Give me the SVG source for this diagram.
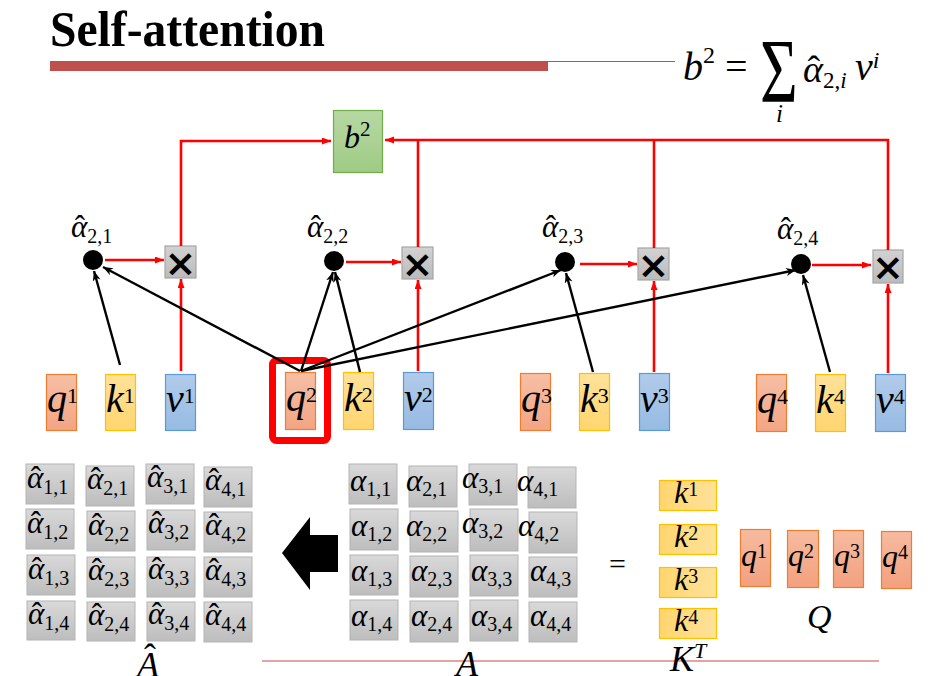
<svg xmlns="http://www.w3.org/2000/svg" width="930" height="676" viewBox="0 0 930 676">
<defs>
<linearGradient id="gq" x1="0" y1="0" x2="0" y2="1"><stop offset="0" stop-color="#F6BFA5"/><stop offset="1" stop-color="#F3A583"/></linearGradient>
<linearGradient id="gk" x1="0" y1="0" x2="0" y2="1"><stop offset="0" stop-color="#FFE29A"/><stop offset="1" stop-color="#FFD56E"/></linearGradient>
<linearGradient id="gk2" x1="0" y1="0" x2="1" y2="0"><stop offset="0" stop-color="#FFD56E"/><stop offset="1" stop-color="#FFE29A"/></linearGradient>
<linearGradient id="gq2" x1="0" y1="0" x2="0" y2="1"><stop offset="0" stop-color="#F6BBA0"/><stop offset="1" stop-color="#F3A07E"/></linearGradient>
<linearGradient id="gv" x1="0" y1="0" x2="0" y2="1"><stop offset="0" stop-color="#B1CBEA"/><stop offset="1" stop-color="#97BBE3"/></linearGradient>
<linearGradient id="gg" x1="0" y1="0" x2="0" y2="1"><stop offset="0" stop-color="#B7D8A3"/><stop offset="1" stop-color="#9FCB85"/></linearGradient>
<linearGradient id="gc" x1="0" y1="0" x2="0" y2="1"><stop offset="0" stop-color="#D9D9D9"/><stop offset="1" stop-color="#BDBDBD"/></linearGradient>
<linearGradient id="gx" x1="0" y1="0" x2="0" y2="1"><stop offset="0" stop-color="#D2D2D2"/><stop offset="1" stop-color="#BBBBBB"/></linearGradient>
<marker id="ar" markerUnits="userSpaceOnUse" markerWidth="10" markerHeight="8" refX="9" refY="3.5" orient="auto"><path d="M0,0 L9,3.5 L0,7 z" fill="#FF0000"/></marker>
<marker id="ab" markerUnits="userSpaceOnUse" markerWidth="11" markerHeight="9" refX="10" refY="4" orient="auto"><path d="M0,0 L10,4 L0,8 L3,4 z" fill="#000"/></marker>
<style>
.mi{font-family:"Liberation Serif","DejaVu Serif",serif;font-style:italic;fill:#000}
.mn{font-family:"Liberation Serif","DejaVu Serif",serif;font-style:normal}
.q{fill:url(#gq);stroke:#ED7D31;stroke-width:1.2}
.k{fill:url(#gk);stroke:#FFC000;stroke-width:1.2}
.v{fill:url(#gv);stroke:#5B9BD5;stroke-width:1.2}
.kt{fill:url(#gk2);stroke:#FFC000;stroke-width:1.2}
.qq{fill:url(#gq2);stroke:#ED7D31;stroke-width:1.2}
.cell{fill:url(#gc);stroke:#B4B4B4;stroke-width:1}
.xb{fill:url(#gx);stroke:#A6A6A6;stroke-width:1.2}
.xt{font-family:"DejaVu Sans",sans-serif;font-weight:bold;font-size:38px;text-anchor:middle;fill:#000}
.red{stroke:#FF0000;stroke-width:2.6;fill:none}
.blk{stroke:#000;stroke-width:2.4;fill:none}
.cv{font-size:31px}
.sub{font-size:20px}
.qkv{font-size:40px}
.sup{font-size:22px}
</style>
</defs>
<rect width="930" height="676" fill="#FFFFFF"/>

<g id="title">
<text x="50" y="46" font-family="Liberation Serif, serif" font-weight="bold" font-size="50" textLength="275" lengthAdjust="spacingAndGlyphs">Self-attention</text>
<rect x="50" y="61" width="498" height="10" fill="#C0504D"/>
<line x1="548" y1="61.5" x2="675" y2="61.5" stroke="#C0504D" stroke-width="1.2"/>
</g>

<g id="formula">
<text class="mi" x="683" y="80" font-size="40">b<tspan class="mn" font-size="24" dy="-17">2</tspan></text>
<text class="mn" x="725" y="80" font-size="40">=</text>
<text class="mn" transform="translate(760,102) scale(0.72,1)" font-size="90">Σ</text>
<text class="mi" x="776" y="122" font-size="25">i</text>
<text class="mi" x="803" y="82" font-size="38">α<tspan class="mn" dx="-15.5">ˆ</tspan><tspan class="mn" font-size="23" dx="2.8" dy="6">2,<tspan class="mi">i</tspan></tspan></text>
<text class="mi" x="855" y="80" font-size="40">v<tspan class="mi" font-size="24" dy="-12">i</tspan></text>
</g>

<g id="b2">
<rect x="333.5" y="110.5" width="49" height="62" fill="url(#gg)" stroke="#70AD47" stroke-width="1.2"/>
<text class="mi" x="344" y="148" font-size="32">b<tspan class="mn" font-size="21" dy="-12">2</tspan></text>
</g>

<g id="mul1"><rect class="xb" x="165" y="246" width="31" height="32"/><text class="xt" x="180.5" y="276">×</text></g>
<g id="mul2"><rect class="xb" x="402" y="247" width="31" height="32"/><text class="xt" x="417.5" y="277">×</text></g>
<g id="mul3"><rect class="xb" x="638" y="248" width="31" height="32"/><text class="xt" x="653.5" y="278">×</text></g>
<g id="mul4"><rect class="xb" x="873" y="250" width="30" height="33"/><text class="xt" x="888" y="280">×</text></g>

<g id="a21"><circle cx="93" cy="260" r="10" fill="#000"/><text class="mi cv" x="71" y="237">α<tspan class="mn" dx="-12.5">ˆ</tspan><tspan class="mn sub" dx="2.2" dy="6">2,1</tspan></text></g>
<g id="a22"><circle cx="334" cy="261" r="10" fill="#000"/><text class="mi cv" x="307" y="237">α<tspan class="mn" dx="-12.5">ˆ</tspan><tspan class="mn sub" dx="2.2" dy="6">2,2</tspan></text></g>
<g id="a23"><circle cx="565" cy="262" r="10" fill="#000"/><text class="mi cv" x="542" y="237">α<tspan class="mn" dx="-12.5">ˆ</tspan><tspan class="mn sub" dx="2.2" dy="6">2,3</tspan></text></g>
<g id="a24"><circle cx="801" cy="264" r="10" fill="#000"/><text class="mi cv" x="777" y="239">α<tspan class="mn" dx="-12.5">ˆ</tspan><tspan class="mn sub" dx="2.2" dy="6">2,4</tspan></text></g>

<g id="q2-highlight"><rect x="272.5" y="360.5" width="55" height="80" rx="4" fill="none" stroke="#FF0000" stroke-width="7"/></g>

<g id="q1"><rect class="q" x="46.5" y="374.5" width="30" height="56"/><text class="mi qkv" x="47" y="412">q<tspan class="mn sup" dy="-9">1</tspan></text></g>
<g id="k1"><rect class="k" x="105.5" y="374.5" width="30" height="56"/><text class="mi qkv" x="106" y="412">k<tspan class="mn sup" dy="-9">1</tspan></text></g>
<g id="v1"><rect class="v" x="165.5" y="374.5" width="30" height="56"/><text class="mi qkv" x="166" y="412">v<tspan class="mn sup" dy="-9">1</tspan></text></g>
<g id="q2"><rect class="q" x="285.5" y="372.5" width="30" height="57"/><text class="mi qkv" x="286" y="411">q<tspan class="mn sup" dy="-9">2</tspan></text></g>
<g id="k2"><rect class="k" x="343.5" y="372.5" width="30" height="57"/><text class="mi qkv" x="344" y="411">k<tspan class="mn sup" dy="-9">2</tspan></text></g>
<g id="v2"><rect class="v" x="403.5" y="372.5" width="30" height="57"/><text class="mi qkv" x="404" y="411">v<tspan class="mn sup" dy="-9">2</tspan></text></g>
<g id="q3"><rect class="q" x="520.5" y="373.5" width="30" height="57"/><text class="mi qkv" x="521" y="412">q<tspan class="mn sup" dy="-9">3</tspan></text></g>
<g id="k3"><rect class="k" x="579.5" y="373.5" width="30" height="57"/><text class="mi qkv" x="580" y="412">k<tspan class="mn sup" dy="-9">3</tspan></text></g>
<g id="v3"><rect class="v" x="639.5" y="373.5" width="30" height="57"/><text class="mi qkv" x="640" y="412">v<tspan class="mn sup" dy="-9">3</tspan></text></g>
<g id="q4"><rect class="q" x="756.5" y="374.5" width="30" height="57"/><text class="mi qkv" x="757" y="413">q<tspan class="mn sup" dy="-9">4</tspan></text></g>
<g id="k4"><rect class="k" x="815.5" y="374.5" width="30" height="57"/><text class="mi qkv" x="816" y="413">k<tspan class="mn sup" dy="-9">4</tspan></text></g>
<g id="v4"><rect class="v" x="875.5" y="374.5" width="30" height="57"/><text class="mi qkv" x="876" y="413">v<tspan class="mn sup" dy="-9">4</tspan></text></g>

<g id="connectors">
<polyline class="red" points="181,246 181,141 331,141" marker-end="url(#ar)"/>
<polyline class="red" points="888,250 888,140 385,140" marker-end="url(#ar)"/>
<line class="red" x1="418" y1="247" x2="418" y2="141"/>
<line class="red" x1="654" y1="248" x2="654" y2="140"/>
<line class="red" x1="105" y1="260" x2="164" y2="260" marker-end="url(#ar)"/>
<line class="red" x1="346" y1="262" x2="401" y2="262" marker-end="url(#ar)"/>
<line class="red" x1="580" y1="264" x2="637" y2="264" marker-end="url(#ar)"/>
<line class="red" x1="812" y1="265" x2="871" y2="265" marker-end="url(#ar)"/>
<line class="red" x1="181" y1="371" x2="181" y2="279" marker-end="url(#ar)"/>
<line class="red" x1="418" y1="371" x2="418" y2="280" marker-end="url(#ar)"/>
<line class="red" x1="654" y1="372" x2="654" y2="281" marker-end="url(#ar)"/>
<line class="red" x1="888" y1="373" x2="888" y2="284" marker-end="url(#ar)"/>
<line class="blk" x1="120" y1="365" x2="94" y2="271" marker-end="url(#ab)"/>
<line class="blk" x1="300" y1="371" x2="103" y2="267" marker-end="url(#ab)"/>
<line class="blk" x1="301" y1="371" x2="333" y2="272" marker-end="url(#ab)"/>
<line class="blk" x1="360" y1="372" x2="335" y2="272" marker-end="url(#ab)"/>
<line class="blk" x1="301" y1="371" x2="561" y2="270" marker-end="url(#ab)"/>
<line class="blk" x1="593" y1="372" x2="566" y2="273" marker-end="url(#ab)"/>
<line class="blk" x1="301" y1="371" x2="796" y2="270" marker-end="url(#ab)"/>
<line class="blk" x1="830" y1="372" x2="803" y2="275" marker-end="url(#ab)"/>
</g>

<g id="Ahat-matrix">
<rect class="cell" x="26" y="464" width="48" height="40"/><text class="mi cv" x="27" y="488">α<tspan class="mn" dx="-12.5">ˆ</tspan><tspan class="mn sub" dx="2.2" dy="6">1,1</tspan></text>
<rect class="cell" x="86" y="466" width="48" height="40"/><text class="mi cv" x="87" y="489">α<tspan class="mn" dx="-12.5">ˆ</tspan><tspan class="mn sub" dx="2.2" dy="6">2,1</tspan></text>
<rect class="cell" x="146" y="464" width="48" height="40"/><text class="mi cv" x="147" y="487">α<tspan class="mn" dx="-12.5">ˆ</tspan><tspan class="mn sub" dx="2.2" dy="6">3,1</tspan></text>
<rect class="cell" x="204" y="467" width="48" height="40"/><text class="mi cv" x="205" y="490">α<tspan class="mn" dx="-12.5">ˆ</tspan><tspan class="mn sub" dx="2.2" dy="6">4,1</tspan></text>
<rect class="cell" x="26" y="509" width="48" height="40"/><text class="mi cv" x="27" y="533">α<tspan class="mn" dx="-12.5">ˆ</tspan><tspan class="mn sub" dx="2.2" dy="6">1,2</tspan></text>
<rect class="cell" x="87" y="511" width="48" height="40"/><text class="mi cv" x="88" y="535">α<tspan class="mn" dx="-12.5">ˆ</tspan><tspan class="mn sub" dx="2.2" dy="6">2,2</tspan></text>
<rect class="cell" x="147" y="510" width="48" height="40"/><text class="mi cv" x="148" y="533">α<tspan class="mn" dx="-12.5">ˆ</tspan><tspan class="mn sub" dx="2.2" dy="6">3,2</tspan></text>
<rect class="cell" x="204" y="512" width="48" height="40"/><text class="mi cv" x="205" y="535">α<tspan class="mn" dx="-12.5">ˆ</tspan><tspan class="mn sub" dx="2.2" dy="6">4,2</tspan></text>
<rect class="cell" x="27" y="555" width="48" height="40"/><text class="mi cv" x="28" y="579">α<tspan class="mn" dx="-12.5">ˆ</tspan><tspan class="mn sub" dx="2.2" dy="6">1,3</tspan></text>
<rect class="cell" x="87" y="557" width="48" height="40"/><text class="mi cv" x="88" y="580">α<tspan class="mn" dx="-12.5">ˆ</tspan><tspan class="mn sub" dx="2.2" dy="6">2,3</tspan></text>
<rect class="cell" x="147" y="557" width="48" height="40"/><text class="mi cv" x="148" y="579">α<tspan class="mn" dx="-12.5">ˆ</tspan><tspan class="mn sub" dx="2.2" dy="6">3,3</tspan></text>
<rect class="cell" x="204" y="557" width="48" height="40"/><text class="mi cv" x="205" y="580">α<tspan class="mn" dx="-12.5">ˆ</tspan><tspan class="mn sub" dx="2.2" dy="6">4,3</tspan></text>
<rect class="cell" x="27" y="601" width="48" height="39"/><text class="mi cv" x="28" y="624">α<tspan class="mn" dx="-12.5">ˆ</tspan><tspan class="mn sub" dx="2.2" dy="6">1,4</tspan></text>
<rect class="cell" x="87" y="602" width="48" height="39"/><text class="mi cv" x="88" y="625">α<tspan class="mn" dx="-12.5">ˆ</tspan><tspan class="mn sub" dx="2.2" dy="6">2,4</tspan></text>
<rect class="cell" x="147" y="602" width="48" height="39"/><text class="mi cv" x="148" y="624">α<tspan class="mn" dx="-12.5">ˆ</tspan><tspan class="mn sub" dx="2.2" dy="6">3,4</tspan></text>
<rect class="cell" x="204" y="602" width="48" height="40"/><text class="mi cv" x="205" y="625">α<tspan class="mn" dx="-12.5">ˆ</tspan><tspan class="mn sub" dx="2.2" dy="6">4,4</tspan></text>
</g>

<g id="big-arrow"><polygon points="282,553 310,517 310,535 338,535 338,572 310,572 310,590" fill="#000"/></g>

<g id="A-matrix">
<rect class="cell" x="349" y="464" width="48" height="40"/><text class="mi cv" x="350" y="491">α<tspan class="mn sub" dy="5">1,1</tspan></text>
<rect class="cell" x="409" y="466" width="48" height="41"/><text class="mi cv" x="406" y="491">α<tspan class="mn sub" dy="5">2,1</tspan></text>
<rect class="cell" x="469" y="464" width="48" height="41"/><text class="mi cv" x="462" y="488">α<tspan class="mn sub" dy="5">3,1</tspan></text>
<rect class="cell" x="528" y="467" width="48" height="41"/><text class="mi cv" x="517" y="491">α<tspan class="mn sub" dy="5">4,1</tspan></text>
<rect class="cell" x="350" y="509" width="48" height="41"/><text class="mi cv" x="351" y="536">α<tspan class="mn sub" dy="5">1,2</tspan></text>
<rect class="cell" x="410" y="511" width="48" height="41"/><text class="mi cv" x="406" y="536">α<tspan class="mn sub" dy="5">2,2</tspan></text>
<rect class="cell" x="470" y="509" width="48" height="42"/><text class="mi cv" x="462" y="533">α<tspan class="mn sub" dy="5">3,2</tspan></text>
<rect class="cell" x="529" y="512" width="48" height="41"/><text class="mi cv" x="518" y="536">α<tspan class="mn sub" dy="5">4,2</tspan></text>
<rect class="cell" x="350" y="555" width="48" height="40"/><text class="mi cv" x="351" y="581">α<tspan class="mn sub" dy="5">1,3</tspan></text>
<rect class="cell" x="410" y="556" width="48" height="41"/><text class="mi cv" x="411" y="581">α<tspan class="mn sub" dy="5">2,3</tspan></text>
<rect class="cell" x="470" y="555" width="48" height="41"/><text class="mi cv" x="471" y="581">α<tspan class="mn sub" dy="5">3,3</tspan></text>
<rect class="cell" x="529" y="557" width="48" height="40"/><text class="mi cv" x="530" y="581">α<tspan class="mn sub" dy="5">4,3</tspan></text>
<rect class="cell" x="350" y="600" width="48" height="40"/><text class="mi cv" x="351" y="626">α<tspan class="mn sub" dy="5">1,4</tspan></text>
<rect class="cell" x="410" y="601" width="48" height="41"/><text class="mi cv" x="411" y="626">α<tspan class="mn sub" dy="5">2,4</tspan></text>
<rect class="cell" x="470" y="600" width="48" height="41"/><text class="mi cv" x="471" y="626">α<tspan class="mn sub" dy="5">3,4</tspan></text>
<rect class="cell" x="529" y="602" width="48" height="40"/><text class="mi cv" x="530" y="626">α<tspan class="mn sub" dy="5">4,4</tspan></text>
</g>

<line id="divider" x1="262" y1="661" x2="879" y2="661" stroke="#E6A3A3" stroke-width="2"/>

<g id="labels">
<text class="mi" x="137" y="677" font-size="36">A<tspan class="mn" dx="-15" dy="-8">ˆ</tspan></text>
<text class="mi" x="456" y="676" font-size="36">A</text>
<text class="mi" x="670" y="671" font-size="36">K<tspan class="mi" font-size="22" dy="-13">T</tspan></text>
<text class="mi" x="807" y="628" font-size="34">Q</text>
<text class="mn" x="609" y="574" font-size="30">=</text>
</g>

<g id="KT">
<rect class="kt" x="659.5" y="480.5" width="57" height="30"/><text class="mi" x="674" y="503" font-size="32">k<tspan class="mn" font-size="20" dy="-7">1</tspan></text>
<rect class="kt" x="659.5" y="524.5" width="57" height="30"/><text class="mi" x="674" y="547" font-size="32">k<tspan class="mn" font-size="20" dy="-7">2</tspan></text>
<rect class="kt" x="659.5" y="567.5" width="57" height="30"/><text class="mi" x="674" y="590" font-size="32">k<tspan class="mn" font-size="20" dy="-7">3</tspan></text>
<rect class="kt" x="659.5" y="608.5" width="57" height="30"/><text class="mi" x="674" y="631" font-size="32">k<tspan class="mn" font-size="20" dy="-7">4</tspan></text>
</g>

<g id="Q">
<rect class="qq" x="740.5" y="529.5" width="30" height="57"/><text class="mi" x="741" y="566" font-size="32">q<tspan class="mn" font-size="20" dy="-8">1</tspan></text>
<rect class="qq" x="787.5" y="530.5" width="31" height="57"/><text class="mi" x="788" y="566" font-size="32">q<tspan class="mn" font-size="20" dy="-8">2</tspan></text>
<rect class="qq" x="833.5" y="530.5" width="30" height="57"/><text class="mi" x="834" y="566" font-size="32">q<tspan class="mn" font-size="20" dy="-8">3</tspan></text>
<rect class="qq" x="881.5" y="531.5" width="30" height="57"/><text class="mi" x="882" y="567" font-size="32">q<tspan class="mn" font-size="20" dy="-8">4</tspan></text>
</g>
</svg>
